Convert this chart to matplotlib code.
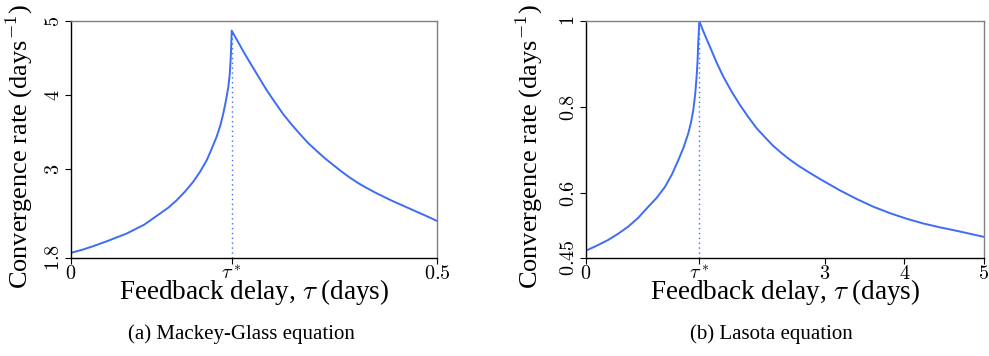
import matplotlib
matplotlib.use("Agg")
import matplotlib.pyplot as plt

# ======================
# DATA
# ======================
# (a) Mackey-Glass
mg_tau_star = 0.2195
mg_tau = [0.0, 0.015, 0.0305, 0.05, 0.076, 0.1, 0.1216, 0.133, 0.1444, 0.156,
          0.167, 0.176, 0.1854, 0.192, 0.199, 0.204, 0.208, 0.2115, 0.2149,
          0.2168, 0.218, 0.2188, 0.2195,
          0.2286, 0.2377, 0.2468, 0.256, 0.267, 0.2787, 0.29, 0.3015, 0.313,
          0.3242, 0.3356, 0.347, 0.3584, 0.3698, 0.381, 0.3925, 0.404, 0.4153,
          0.4266, 0.438, 0.4494, 0.4608, 0.472, 0.4836, 0.4918, 0.5]
mg_rate = [1.87, 1.91, 1.96, 2.03, 2.13, 2.25, 2.40, 2.48, 2.58, 2.70,
           2.83, 2.96, 3.12, 3.27, 3.44, 3.59, 3.75, 3.92, 4.11,
           4.28, 4.47, 4.65, 4.87,
           4.71, 4.55, 4.40, 4.25, 4.07, 3.90, 3.74, 3.60, 3.47,
           3.35, 3.245, 3.145, 3.055, 2.965, 2.885, 2.81, 2.745, 2.685,
           2.63, 2.575, 2.525, 2.475, 2.425, 2.375, 2.338, 2.30]
mg_yticks = [1.8, 3, 4, 5]
mg_yticklabels = ["1.8", "3", "4", "5"]

# (b) Lasota
la_tau_star = 1.423
la_tau = [0.0, 0.14, 0.28, 0.41, 0.532, 0.66, 0.783, 0.89, 0.992, 1.08, 1.16,
          1.225, 1.285, 1.32, 1.348, 1.372, 1.39, 1.402, 1.41, 1.418, 1.423,
          1.49, 1.558, 1.64, 1.725, 1.83, 1.935, 2.04, 2.144, 2.25, 2.353,
          2.46, 2.563, 2.67, 2.773, 2.88, 2.98, 3.19, 3.40, 3.61, 3.82, 4.03,
          4.24, 4.45, 4.66, 4.83, 5.0]
la_rate = [0.467, 0.479, 0.492, 0.507, 0.523, 0.544, 0.569, 0.590, 0.615, 0.644, 0.677,
           0.706, 0.739, 0.765, 0.793, 0.830, 0.871, 0.908, 0.948, 0.975, 1.0,
           0.969, 0.940, 0.904, 0.871, 0.836, 0.805, 0.777, 0.751, 0.730, 0.710,
           0.693, 0.678, 0.664, 0.652, 0.640, 0.629, 0.607, 0.587, 0.569, 0.554, 0.541,
           0.530, 0.521, 0.513, 0.506, 0.499]
la_yticks = [0.45, 0.6, 0.8, 1]
la_yticklabels = ["0.45", "0.6", "0.8", "1"]

# ======================
# STYLE
# ======================
plt.rcParams['font.family'] = ['Liberation Serif', 'DejaVu Serif']
plt.rcParams['mathtext.fontset'] = 'cm'

LINE = '#3d6cf5'

fig = plt.figure(figsize=(9.89, 3.56), dpi=100)
ax1 = fig.add_axes([0.0718, 0.2753, 0.3701, 0.6657])
ax2 = fig.add_axes([0.5925, 0.2753, 0.4024, 0.6657])


def draw(ax, tau, rate, tau_star, xlim, ylim, xticks, xlabels, yticks, ylabels, ylab_x, caption, cap_x):
    ax.plot(tau, rate, color=LINE, lw=1.4)
    peak = max(rate)
    ax.plot([tau_star, tau_star], [ylim[0], peak], color=LINE, lw=1.0, ls=(0, (1, 2.5)))
    ax.set_xlim(*xlim)
    ax.set_ylim(*ylim)

    ax.set_xticks(xticks)
    ax.set_xticklabels(xlabels, fontsize=14.5)
    ax.set_yticks(yticks)
    ax.set_yticklabels(["$%s$" % s for s in ylabels], fontsize=14.5, rotation=90, va='center')
    ax.tick_params(direction='out', length=4, width=0.8, pad=1)

    for s in ['left', 'bottom']:
        ax.spines[s].set_color('black')
        ax.spines[s].set_linewidth(1.0)
    for s in ['top', 'right']:
        ax.spines[s].set_color('#808080')
        ax.spines[s].set_linewidth(1.0)

    # label sits tight under the ticks, like the original (tau* touches it)
    ax.set_xlabel(r"Feedback delay, $\tau$ (days)", fontsize=19.5)
    ax.xaxis.set_label_coords(0.5, -0.08)
    ax.set_ylabel(r"Convergence rate (days$^{-1}$)", fontsize=19)
    ax.yaxis.set_label_coords(ylab_x, 0.47)

    ax.text(cap_x, -0.32, caption, transform=ax.transAxes, ha='center', va='center',
            fontsize=15)


draw(ax1, mg_tau, mg_rate, mg_tau_star, (0, 0.5), (1.8, 5),
     [0, mg_tau_star, 0.5], ["$0$", r"$\tau^*$", "$0.5$"],
     mg_yticks, mg_yticklabels, -0.098, "(a) Mackey-Glass equation", 0.466)

draw(ax2, la_tau, la_rate, la_tau_star, (0, 5), (0.45, 1),
     [0, la_tau_star, 3, 4, 5], ["$0$", r"$\tau^*$", "$3$", "$4$", "$5$"],
     la_yticks, la_yticklabels, -0.103, "(b) Lasota equation", 0.465)

fig.savefig("out.png", dpi=100)
